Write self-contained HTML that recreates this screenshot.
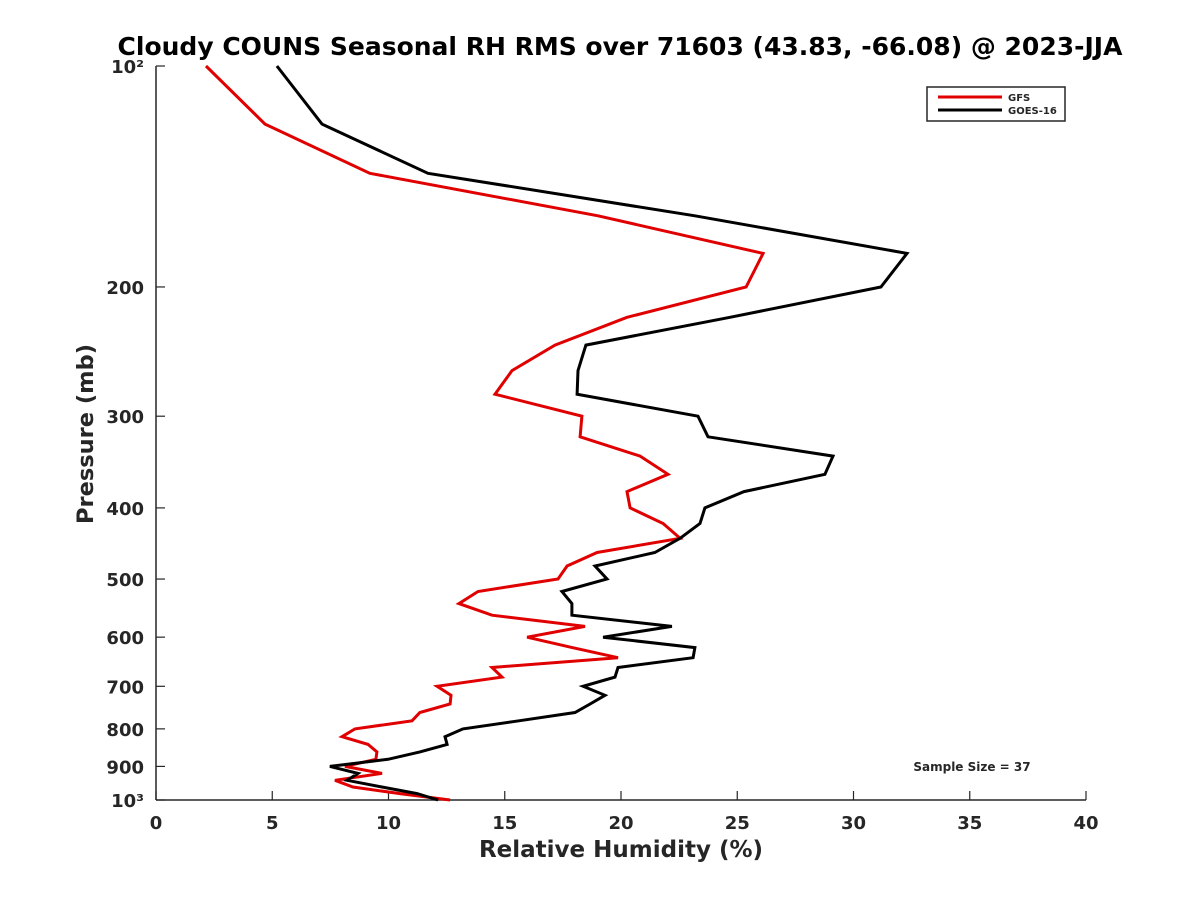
<!DOCTYPE html>
<html><head><meta charset="utf-8"><style>
body{margin:0;background:#fff;font-family:"Liberation Sans",sans-serif}
svg text{font-family:"DejaVu Sans","Liberation Sans",sans-serif;font-weight:bold;fill:#262626}
</style></head><body>
<svg id="chart" width="1200" height="900" xmlns="http://www.w3.org/2000/svg">
<rect width="1200" height="900" fill="#fff"/>
<text x="620" y="55" font-size="25" text-anchor="middle" style="fill:#000">Cloudy COUNS Seasonal RH RMS over 71603 (43.83, -66.08) @ 2023-JJA</text>
<g id="axes"></g>
<g id="series"></g>
<g>
<rect x="927" y="87" width="138" height="34" fill="#fff" stroke="#262626" stroke-width="1.5"/>
<line x1="938" y1="97" x2="1002" y2="97" stroke="#e00000" stroke-width="3"/>
<text x="1008" y="101" font-size="10">GFS</text>
<line x1="938" y1="110" x2="1002" y2="110" stroke="#000" stroke-width="3"/>
<text x="1008" y="114" font-size="10">GOES-16</text>
</g>
<text x="972" y="771" font-size="12" text-anchor="middle">Sample Size = 37</text>
<text x="621" y="857" font-size="23" text-anchor="middle">Relative Humidity (%)</text>
<text transform="translate(93,434) rotate(-90)" font-size="22.5" text-anchor="middle">Pressure (mb)</text>
</svg>
<script>
const pressures=[100,120,140,160,180,200,220,240,260,280,300,320,340,360,380,400,420,440,460,480,500,520,540,560,580,600,620,640,660,680,700,720,740,760,780,800,820,840,860,880,900,920,940,960,980,1000];
const gfsRH=[2.15,4.69,9.20,19.01,26.11,25.38,20.26,17.16,15.31,14.58,18.32,18.24,20.82,22.02,20.26,20.39,21.81,22.54,18.97,17.68,17.29,13.85,13.03,14.45,18.45,15.96,17.9,19.87,14.45,14.88,12.09,12.69,12.65,11.35,11.01,8.56,8.0,9.12,9.5,9.46,8.13,9.72,7.70,8.47,10.49,12.65];
const goesRH=[5.20,7.14,11.70,23.18,32.30,31.18,24.69,18.49,18.15,18.11,23.31,23.74,29.12,28.77,25.29,23.61,23.40,22.54,21.46,18.88,19.40,17.46,17.89,17.89,22.19,19.23,23.18,23.1,19.87,19.74,18.37,19.31,18.67,18.02,15.61,13.20,12.43,12.52,11.35,9.98,7.48,8.69,8.22,9.72,11.23,12.13];
const xTicks=[0,5,10,15,20,25,30,35,40];
const yTicks=[100,200,300,400,500,600,700,800,900,1000];
const yTickLabels=["10²","200","300","400","500","600","700","800","900","10³"];
const X0=156,X1=1086,Y0=66,Y1=800;
const xs=v=>X0+(v/40)*(X1-X0);
const ys=p=>Y0+Math.log10(p/100)*(Y1-Y0);
const NS="http://www.w3.org/2000/svg";
const ax=document.getElementById('axes');
function mk(t,a,parent){const e=document.createElementNS(NS,t);for(const k in a)e.setAttribute(k,a[k]);parent.appendChild(e);return e;}
let l=mk('line',{x1:X0,y1:Y0,x2:X0,y2:Y1,stroke:'#262626','stroke-width':1.5},ax);


l=mk('line',{x1:X0,y1:Y1,x2:X1,y2:Y1,stroke:'#262626','stroke-width':1.5},ax);


xTicks.forEach(v=>{
 const x=xs(v);
 mk('line',{x1:x,y1:Y1,x2:x,y2:Y1-9,stroke:'#262626','stroke-width':1.2},ax);
 const t=mk('text',{x:x,y:829,'font-size':18,'text-anchor':'middle'},ax);t.textContent=v;
 
 
});
yTicks.forEach((p,i)=>{
 const y=ys(p);
 mk('line',{x1:X0,y1:y,x2:X0+9,y2:y,stroke:'#262626','stroke-width':1.2},ax);
 const t=mk('text',{x:X0-12,y:y+7,'font-size':18,'text-anchor':'end'},ax);t.textContent=yTickLabels[i];
 
 
});
const sg=document.getElementById('series');
[[gfsRH,'#e00000','gfs-line'],[goesRH,'#000','goes16-line']].forEach(([d,c,n])=>{
 const pts=d.map((v,i)=>xs(v).toFixed(1)+','+ys(pressures[i]).toFixed(1)).join(' ');
 const pl=mk('polyline',{points:pts,fill:'none',stroke:c,'stroke-width':3,'stroke-linejoin':'miter'},sg);
 
 
});
</script>
</body></html>
